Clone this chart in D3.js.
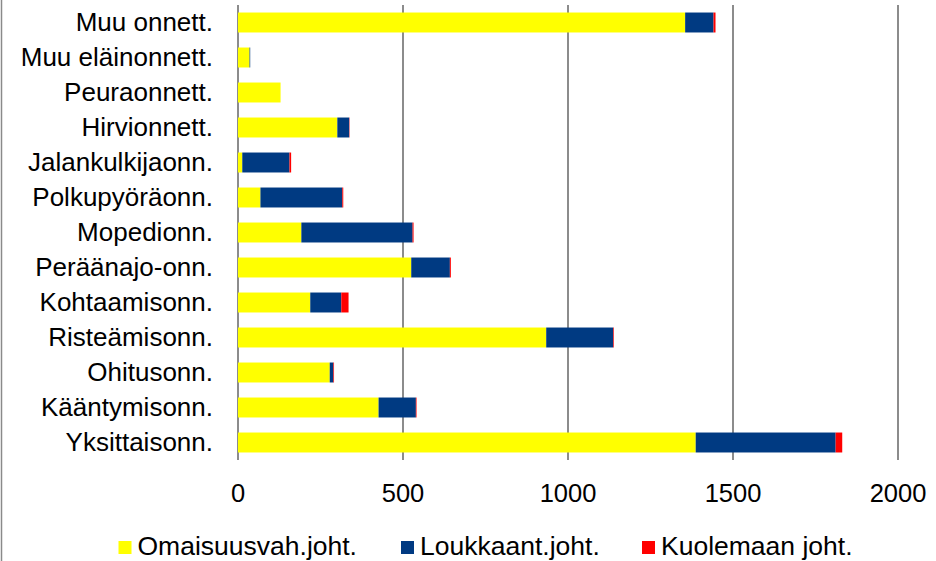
<!DOCTYPE html>
<html><head><meta charset="utf-8">
<script src="https://cdn.jsdelivr.net/npm/d3@7"></script>
<style>body{margin:0;background:#fff}svg{display:block;font-family:"Liberation Sans",Arial,sans-serif}</style>
</head><body><svg id="c" width="936" height="561"></svg>
<script>
const categories = ["Muu onnett.","Muu eläinonnett.","Peuraonnett.","Hirvionnett.","Jalankulkijaonn.","Polkupyöräonn.","Mopedionn.","Peräänajo-onn.","Kohtaamisonn.","Risteämisonn.","Ohitusonn.","Kääntymisonn.","Yksittaisonn."];
const omaisuus  = [1355, 35, 129, 301, 13, 68, 192, 525, 219, 934, 278, 426, 1387];
const loukkaant = [86, 2, 0, 36, 143, 248, 337, 117, 94, 203, 11, 113, 424];
const kuolemaan = [6, 0, 0, 1, 5, 3, 3, 3, 22, 2, 2, 2, 20];
const seriesNames = ["Omaisuusvah.joht.","Loukkaant.joht.","Kuolemaan joht."];
const seriesColors = ["#FFFF00","#003A82","#FF0000"];
const tickValues = [0, 500, 1000, 1500, 2000];

const svg = d3.select("#c");
const x = d3.scaleLinear().domain([0, 2000]).range([238, 898]);
const y = d3.scaleBand().domain(categories).range([5, 460]).paddingInner(0.43).paddingOuter(0.215);

// outer border line at left
svg.append("line").attr("x1",1.5).attr("x2",1.5).attr("y1",0).attr("y2",561)
  .attr("stroke","#8a8a8a").attr("stroke-width",1.5);

// gridlines
svg.append("g").selectAll("line").data(tickValues).join("line")
  .attr("x1",d=>x(d)).attr("x2",d=>x(d)).attr("y1",5).attr("y2",460)
  .attr("stroke","#8c8c8c").attr("stroke-width",2);

// stacked bars
const table = categories.map((c,i)=>({cat:c, s0:omaisuus[i], s1:loukkaant[i], s2:kuolemaan[i]}));
const stack = d3.stack().keys(["s0","s1","s2"])(table);
svg.append("g").selectAll("g").data(stack).join("g")
  .attr("fill",(d,i)=>seriesColors[i])
  .selectAll("rect").data(d=>d).join("rect")
  .attr("x",d=>x(d[0])).attr("width",d=>Math.max(0,x(d[1])-x(d[0])))
  .attr("y",d=>y(d.data.cat)).attr("height",y.bandwidth());

// y labels
svg.append("g").selectAll("text").data(categories).join("text")
  .attr("x",213).attr("y",d=>y(d)+y.bandwidth()/2).attr("dy","0.33em")
  .attr("text-anchor","end").attr("font-size",26).attr("fill","#000").text(d=>d);

// x tick labels
svg.append("g").selectAll("text").data(tickValues).join("text")
  .attr("x",d=>x(d)).attr("y",502).attr("text-anchor","middle")
  .attr("font-size",25.5).attr("fill","#000").text(d=>d);

// legend
const legX = [118.5, 401, 642];
const leg = svg.append("g").selectAll("g").data(seriesNames).join("g")
  .attr("transform",(d,i)=>`translate(${legX[i]},0)`);
leg.append("rect").attr("x",0).attr("y",541).attr("width",13).attr("height",13)
  .attr("fill",(d,i)=>seriesColors[i]);
leg.append("text").attr("x",19).attr("y",555).attr("font-size",26.5).attr("fill","#000").text(d=>d);
</script></body></html>
